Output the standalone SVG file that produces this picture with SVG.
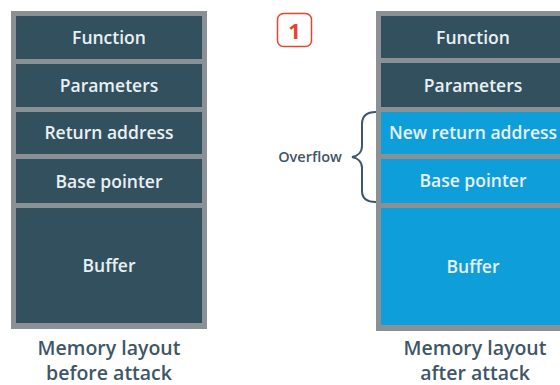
<svg xmlns="http://www.w3.org/2000/svg" width="560" height="385" viewBox="0 0 560 385">
<style>
.frame{fill:#8b9094}
.dark{fill:#33505f}
.blue{fill:#0e9fda}
.cell{font-family:"Open Sans","Noto Sans",sans-serif;font-size:17.5px;font-weight:600;fill:#e9f0f3;text-anchor:middle}
.cap{font-family:"Open Sans","Noto Sans",sans-serif;font-size:19.5px;font-weight:600;fill:#3e5667;text-anchor:middle}
.ov{font-family:"Open Sans","Noto Sans",sans-serif;font-size:14.5px;font-weight:600;fill:#3e5667;text-anchor:middle}
</style>
<rect width="560" height="385" fill="#ffffff"/>
<g id="before">
  <rect class="frame" x="11" y="11" width="196" height="318"/>
  <g id="b-function"><rect class="dark" x="16" y="16" width="186" height="43"/><text class="cell" x="109" y="44">Function</text></g>
  <g id="b-parameters"><rect class="dark" x="16" y="64" width="186" height="43"/><text class="cell" x="109" y="92">Parameters</text></g>
  <g id="b-return"><rect class="dark" x="16" y="112" width="186" height="42"/><text class="cell" x="109" y="139">Return address</text></g>
  <g id="b-base"><rect class="dark" x="16" y="159" width="186" height="44"/><text class="cell" x="109" y="188">Base pointer</text></g>
  <g id="b-buffer"><rect class="dark" x="16" y="208" width="186" height="115"/><text class="cell" x="109" y="272">Buffer</text></g>
  <text class="cap" x="109" y="355">Memory layout</text>
  <text class="cap" x="109" y="380">before attack</text>
</g>
<g id="badge">
  <rect x="277.5" y="13.5" width="34" height="33" rx="6" fill="#ffffff" stroke="#e8432f" stroke-width="1.5"/>
  <text x="294.5" y="39" font-family="'Open Sans','Noto Sans',sans-serif" font-size="22" font-weight="700" fill="#e8432f" text-anchor="middle">1</text>
</g>
<g id="after">
  <rect class="frame" x="376" y="11" width="196" height="320"/>
  <g id="a-function"><rect class="dark" x="381" y="16" width="186" height="42"/><text class="cell" x="473" y="44">Function</text></g>
  <g id="a-parameters"><rect class="dark" x="381" y="63" width="186" height="44"/><text class="cell" x="473" y="92">Parameters</text></g>
  <g id="a-return"><rect class="blue" x="381" y="112" width="186" height="42"/><text class="cell" x="473" y="139">New return address</text></g>
  <g id="a-base"><rect class="blue" x="381" y="159" width="186" height="44"/><text class="cell" x="473" y="187">Base pointer</text></g>
  <g id="a-buffer"><rect class="blue" x="381" y="208" width="186" height="117"/><text class="cell" x="473" y="273">Buffer</text></g>
  <text class="cap" x="475" y="355">Memory layout</text>
  <text class="cap" x="475" y="380">after attack</text>
</g>
<g id="connectors">
  <path d="M376,112 C366,112 362,116 362,124 L362,146 C362,152 358,156 352,157 C358,158 362,162 362,168 L362,191 C362,198 366,202 376,202" fill="none" stroke="#3e5667" stroke-width="2"/>
  <text class="ov" x="310" y="162">Overflow</text>
</g>
</svg>
